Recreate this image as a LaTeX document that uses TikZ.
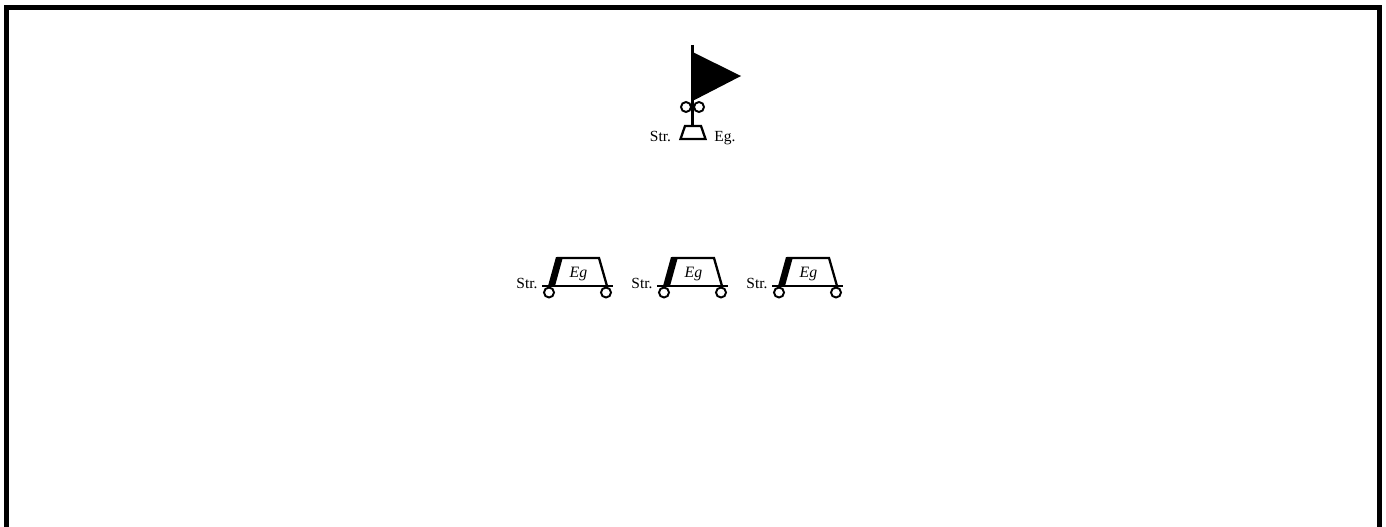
\documentclass[tikz,border=0pt]{standalone}
\usepackage{fontspec}
\setmainfont{Liberation Serif}
\usetikzlibrary{positioning}
\tikzset{
  every picture/.style={line width=1.3pt},
  frameline/.style={line width=2.9pt},
  part/.style={line width=1.3pt, line join=miter},
  wheel/.style={draw, fill=white, circle, line width=1.1pt, inner sep=0pt, minimum size=0.2cm},
  lab/.style={font=\fontsize{8.8}{10}\selectfont, inner sep=0pt, anchor=base},
  carlab/.style={font=\fontsize{9}{10}\selectfont\itshape, inner sep=0pt, anchor=base},
}
\begin{document}
\begin{tikzpicture}[x=0.02cm, y=-0.02cm]
  \useasboundingbox (0,0) rectangle (1386,527);
  \draw[frameline] (6.5,527) -- (6.5,7.5) -- (1379.5,7.5) -- (1379.5,527);
  % flag
  \draw[part] (692.5,45) -- (692.5,127);
  \fill (692.5,52) -- (741,76) -- (692.5,101) -- cycle;
  \node[wheel] (ringa) at (686,107) {};
  \node[wheel] (ringb) at (699,107) {};
  \draw[part, fill=white] (685,126) -- (701,126) -- (705.5,139) -- (680.5,139) -- cycle;
  \node[lab] (strflag) at (660.5,141.5) {Str.};
  \node[lab] (egflag) at (725,141.5) {Eg.};
  % cars
  \foreach[count=\k] \x in {0,115,230} {
    \begin{scope}[xshift=\x*0.02cm]
      \draw[part] (557,258) -- (599,258) -- (607,286);
      \fill (548,286) -- (556,257) -- (563,257) -- (555,286) -- cycle;
      \draw[part] (542,286) -- (613,286);
      \node[wheel] (wa\k) at (549,292.5) {};
      \node[wheel] (wb\k) at (606,292.5) {};
      \node[carlab] (eg\k) at (578.5,277) {Eg};
      \node[lab] (str\k) at (527,288.5) {Str.};
    \end{scope}
  }
\end{tikzpicture}
\end{document}
